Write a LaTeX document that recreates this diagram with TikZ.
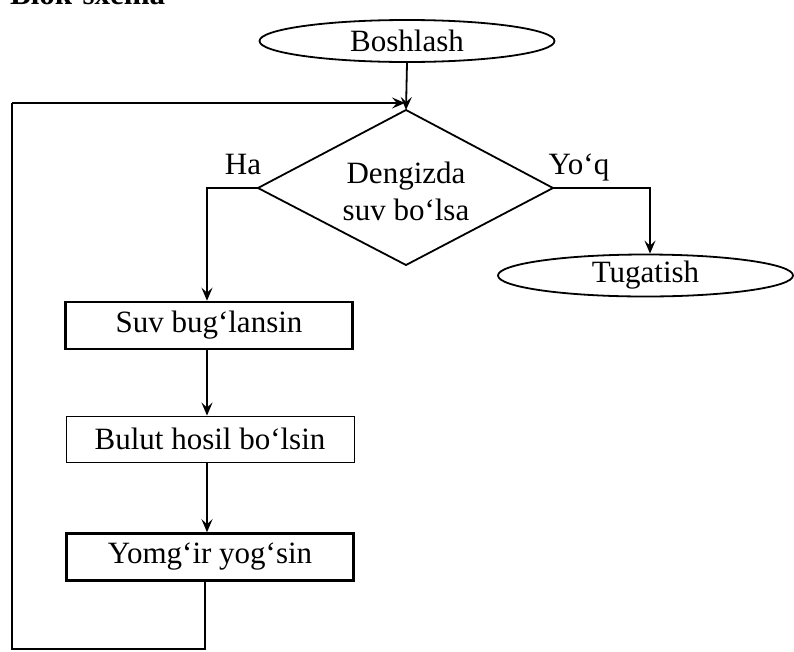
\documentclass[tikz,border=0pt]{standalone}
\usepackage{fontspec}
\setmainfont{Liberation Serif}
\usetikzlibrary{shapes.geometric,arrows.meta}
\begin{document}
\begin{tikzpicture}[x=1pt,y=-1pt,
  every node/.style={font=\fontsize{31}{37}\selectfont},
  oval/.style={ellipse,draw,line width=1.8pt,minimum width=295pt,minimum height=42pt,inner sep=0pt},
  procbox/.style={rectangle,draw,line width=2.6pt,minimum width=287pt,minimum height=47pt,inner sep=0pt},
  thinbox/.style={rectangle,draw,line width=0.9pt,minimum width=288pt,minimum height=46pt,inner sep=0pt},
  conn/.style={line width=1.8pt},
  arr/.style={conn,-{Stealth[length=13pt,width=11pt,inset=5pt]}}]
\useasboundingbox (0,0) rectangle (794,651);
\node[anchor=base west,font=\fontsize{31}{37}\selectfont\bfseries,inner sep=0pt] (title) at (10,4) {Blok-sxema};
\node[oval] (start) at (407,41) {Boshlash};
\coordinate (dtop) at (406,110);
\coordinate (dleft) at (258,188);
\coordinate (dright) at (553,188);
\coordinate (dbot) at (406,265);
\draw[line width=1.8pt,line join=miter] (dtop) -- (dright) -- (dbot) -- (dleft) -- cycle;
\node[align=center,inner sep=0pt] (dec) at (406,191) {Dengizda\\suv bo‘lsa};
\node[oval] (end) at (645.5,275.5) {Tugatish};
\node[procbox] (b1) at (209,325.5) {Suv bug‘lansin};
\node[thinbox] (b2) at (210,439) {Bulut hosil bo‘lsin};
\node[procbox] (b3) at (210,557) {Yomg‘ir yog‘sin};
\node[anchor=base] (ha) at (243,174) {Ha};
\node[anchor=base] (yoq) at (579,174) {Yo‘q};
\coordinate (lp1) at (205,649);
\coordinate (lp2) at (12,649);
\coordinate (lp3) at (12,103);
\coordinate (lp4) at (405,103);
\draw[arr] (start.south) -- (dtop);
\draw[arr] (dleft) -| (b1.north -| 207,0);
\draw[arr] (dright) -| (end.north -| 650,0);
\draw[arr] (b1.south -| 207,0) -- (b2.north -| 207,0);
\draw[arr] (b2.south -| 207,0) -- (b3.north -| 207,0);
\draw[conn] (b3.south -| 205,0) -- (lp1) -- (lp2) -- (lp3);
\draw[arr] (lp3) -- (lp4);
\end{tikzpicture}
\end{document}
